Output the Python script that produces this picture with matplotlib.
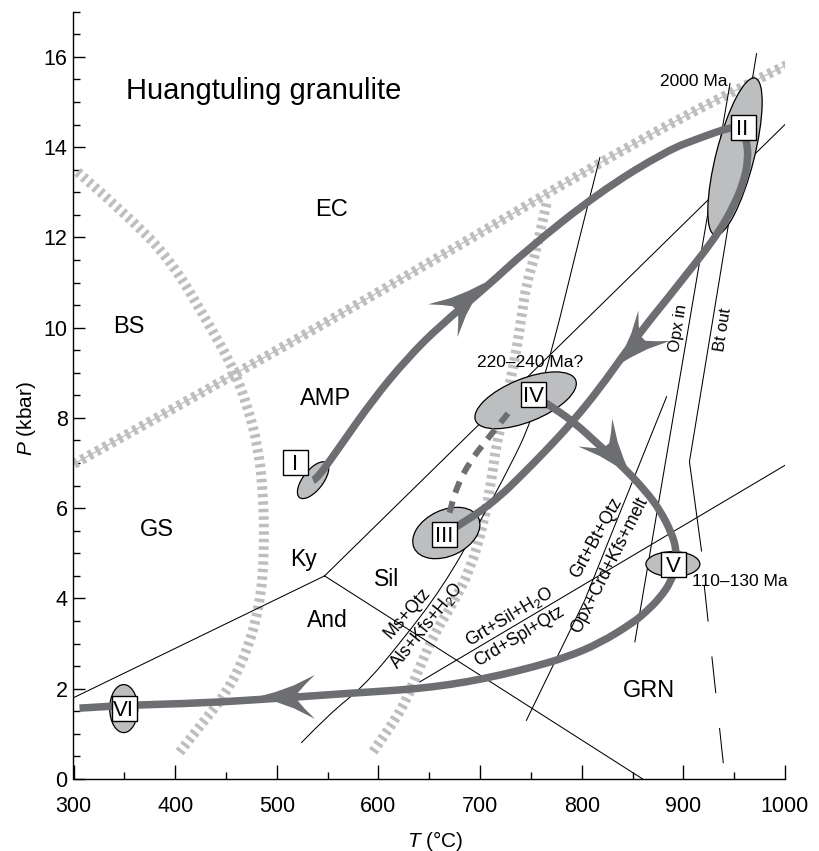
import numpy as np
import matplotlib
matplotlib.use("Agg")
import matplotlib.pyplot as plt
from matplotlib.patches import Ellipse, Polygon, PathPatch
from matplotlib.path import Path
from matplotlib.transforms import ScaledTranslation
from matplotlib.ticker import MultipleLocator

plt.rcParams['font.family'] = ['Liberation Sans', 'DejaVu Sans']
plt.rcParams['mathtext.fontset'] = 'custom'
plt.rcParams['mathtext.rm'] = 'Liberation Sans'
plt.rcParams['mathtext.it'] = 'Liberation Sans:italic'
plt.rcParams['lines.scale_dashes'] = False

LIGHT = '#bcbec0'
DARK = '#6d6e71'

# --- facies boundaries (T in degC, P in kbar) ---
ec_amp_T = [300.5, 460, 621, 867, 1001.6]
ec_amp_P = [6.98, 8.98, 11.05, 14.31, 15.82]

bs_gs_T = [304, 358.4, 397.8, 430.6, 456.8, 472, 481, 486.4, 488, 483.1, 470, 450.3, 424, 406, 402]
bs_gs_P = [13.45, 12.38, 11.42, 10.17, 9.13, 8.2, 7.4, 6.47, 5.0, 3.82, 2.78, 1.9, 1.16, 0.64, 0.52]

amp_grn_T = [765.4, 755.6, 745.6, 740.7, 735.8, 729.3, 722.7, 716.2, 711, 703, 690, 673.4, 657, 640.6, 625, 594.5]
amp_grn_P = [12.75, 11.72, 10.97, 10.24, 9.5, 8.76, 8.02, 7.43, 6.6, 5.6, 4.63, 3.89, 3.3, 2.49, 1.6, 0.6]

# --- reaction lines ---
ky_and_T, ky_and_P = [300, 547], [1.8, 4.5]
ky_sil_T, ky_sil_P = [547, 1000], [4.5, 14.5]
and_sil_T, and_sil_P = [547, 860], [4.5, 0.0]
ms_qtz_T = [524, 552, 584.8, 621, 663.6, 700, 730, 750, 772, 794.8, 818]
ms_qtz_P = [0.8, 1.45, 2.04, 3.0, 4.26, 5.7, 6.95, 7.9, 9.6, 11.72, 13.78]
grt_sil_T, grt_sil_P = [640.6, 1000], [2.15, 6.95]
grt_bt_T, grt_bt_P = [745.6, 803, 883.5], [1.3, 3.96, 8.47]
opx_in_T, opx_in_P = [945.9, 852.3], [15.41, 3.04]
bt_out_T, bt_out_P = [972, 906, 917.9], [16.07, 7.03, 5.05]
bt_out_dash_T, bt_out_dash_P = [920.5, 939.3], [4.3, 0.35]

# --- P-T paths ---
path1_T = [535.7, 538.9, 561.9, 594.4, 627.9, 660.3, 706.3, 745.7, 817.9, 883.5, 916.9, 946.0, 958.3]
path1_P = [6.62, 6.63, 7.36, 8.40, 9.31, 10.04, 10.90, 11.72, 13.01, 13.92, 14.21, 14.44, 14.45]

path2_T = [958.2, 962.3, 963.9, 959.0, 949.1, 936.0, 919.6, 906.5, 883.5, 867.1, 842.5, 817.9,
           791.6, 765.4, 739.1, 719.4, 697.8, 676.8, 664.4]
path2_P = [14.45, 14.16, 13.72, 13.20, 12.68, 12.16, 11.65, 11.28, 10.62, 10.17, 9.44, 8.66,
           7.93, 7.29, 6.69, 6.26, 5.89, 5.59, 5.42]

path3_T = [752.1, 765.4, 791.3, 817.9, 839.5, 862.2, 876.9, 888.5, 893.2, 892.7, 887.8, 876.9, 863.1,
           850.3, 817.9, 785.4, 751.9, 719.4, 686.9, 653.5, 621.0, 571.7, 490.0, 424.1, 358.1, 305.9]
path3_P = [8.52, 8.32, 7.93, 7.38, 6.94, 6.40, 5.96, 5.45, 5.07, 4.72, 4.37, 4.01, 3.70,
           3.46, 3.01, 2.70, 2.48, 2.30, 2.15, 2.04, 1.97, 1.90, 1.77, 1.68, 1.64, 1.57]

link_T = [727.5, 706.3, 689.9, 676.8, 670]
link_P = [8.1, 7.51, 7.03, 6.47, 5.9]

# arrowheads: (tip T, tip P, back T, back P)
arrows = [
    (705.0, 11.0, 663.6, 10.16),
    (832.6, 9.13, 868.7, 9.98),
    (849.0, 6.70, 812.9, 7.69),
    (481.4, 1.82, 535.6, 1.82),
]

# --- metamorphic stages ---
stage_names = ['I', 'II', 'III', 'IV', 'V', 'VI']
stage_T = [517.9, 958.2, 664.4, 752.1, 890.3, 349.4]
stage_P = [7.03, 14.45, 5.42, 8.52, 4.77, 1.57]

# ellipse centres (T, P) and size in px (w, h, angle)
ell_T = [535.7, 950.8, 666.8, 744.8, 889.7, 349.4]
ell_P = [6.62, 13.79, 5.45, 8.39, 4.76, 1.56]
ell_size = [(44, 20, 52), (162, 38, 75.7), (71, 46, 25), (108, 43, 22), (54, 25, 0), (28, 48, 0)]


def smooth(T, P):
    """Quadratic Bezier path using the read points as control points."""
    pts = np.column_stack([T, P]).astype(float)
    verts, codes = [pts[0]], [Path.MOVETO]
    for i in range(1, len(pts) - 1):
        verts += [pts[i], (pts[i] + pts[i + 1]) / 2]
        codes += [Path.CURVE3, Path.CURVE3]
    verts.append(pts[-1])
    codes.append(Path.LINETO)
    return Path(verts, codes)


def draw_curve(ax, T, P, **kw):
    ax.add_patch(PathPatch(smooth(T, P), fill=False, **kw))


fig = plt.figure(figsize=(8.2, 8.51), dpi=100)
ax = fig.add_axes([73.5 / 820, 72 / 851, 711.5 / 820, 767.3 / 851])
ax.set_xlim(300, 1000)
ax.set_ylim(0, 17)

for s in ['top', 'right']:
    ax.spines[s].set_visible(False)
for s in ['left', 'bottom']:
    ax.spines[s].set_linewidth(1.0)

ax.xaxis.set_major_locator(MultipleLocator(100))
ax.xaxis.set_minor_locator(MultipleLocator(50))
ax.yaxis.set_major_locator(MultipleLocator(2))
ax.yaxis.set_minor_locator(MultipleLocator(0.5))
ax.tick_params(axis='both', which='both', direction='in', width=1.0, labelsize=15.5)
ax.tick_params(axis='x', which='major', length=10, pad=12)
ax.tick_params(axis='x', which='minor', length=5.3)
ax.tick_params(axis='y', which='major', length=8.4, pad=4.3)
ax.tick_params(axis='y', which='minor', length=5.3)

ax.set_xlabel('$T$ (°C)', fontsize=15)
ax.xaxis.label.set_va('baseline')
ax.xaxis.set_label_coords(0.508, -0.0882)
ax.set_ylabel('$P$ (kbar)', fontsize=15)
ax.yaxis.label.set_va('baseline')
ax.yaxis.set_label_coords(-0.0587, 0.47)

# facies bands
draw_curve(ax, ec_amp_T, ec_amp_P, edgecolor=LIGHT, lw=7.2, linestyle=(0, (2.9, 3.2)), zorder=2)
draw_curve(ax, ec_amp_T, ec_amp_P, edgecolor=LIGHT, lw=0.9, zorder=2)
for t, p in [(bs_gs_T, bs_gs_P), (amp_grn_T, amp_grn_P)]:
    draw_curve(ax, t, p, edgecolor=LIGHT, lw=7.2, linestyle=(0, (2.5, 2.9)), zorder=2)

# reaction curves
thin = dict(color='black', lw=0.75, zorder=3)
for t, p in [(ky_and_T, ky_and_P), (ky_sil_T, ky_sil_P), (and_sil_T, and_sil_P),
             (grt_sil_T, grt_sil_P), (grt_bt_T, grt_bt_P),
             (opx_in_T, opx_in_P), (bt_out_T, bt_out_P)]:
    ax.plot(t, p, **thin)
draw_curve(ax, ms_qtz_T, ms_qtz_P, edgecolor='black', lw=0.75, zorder=3)
ax.plot(bt_out_dash_T, bt_out_dash_P, dashes=(26.6, 25.2), **thin)

# stage ellipses
for t, p, (w, h, a) in zip(ell_T, ell_P, ell_size):
    tr = fig.dpi_scale_trans + ScaledTranslation(t, p, ax.transData)
    ax.add_patch(Ellipse((0, 0), w / 100, h / 100, angle=a, transform=tr,
                         facecolor=LIGHT, edgecolor='black', lw=0.9, zorder=4))

# P-T paths
path_kw = dict(edgecolor=DARK, lw=5.4, capstyle='butt', joinstyle='round', zorder=5)
draw_curve(ax, path1_T, path1_P, **path_kw)
draw_curve(ax, path2_T, path2_P, **path_kw)
draw_curve(ax, path3_T, path3_P, **path_kw)
draw_curve(ax, link_T, link_P, edgecolor=DARK, lw=4.3, linestyle=(0, (8.6, 6.5)), zorder=5)

# barbed arrowheads, shape in px pointing along +x
head = np.array([(0, 0), (-18, 5), (-36, 11.5), (-57, 22), (-47, 12), (-40, 4),
                 (-40, -4), (-47, -12), (-57, -22), (-36, -11.5), (-18, -5)], float)
for tt, tp, bt, bp in arrows:
    (x0, y0), (x1, y1) = ax.transData.transform([(bt, bp), (tt, tp)])
    ang = np.arctan2(y1 - y0, x1 - x0)
    c, s = np.cos(ang), np.sin(ang)
    pts = np.column_stack([head[:, 0] * c - head[:, 1] * s,
                           head[:, 0] * s + head[:, 1] * c]) / 100
    tr = fig.dpi_scale_trans + ScaledTranslation(tt, tp, ax.transData)
    ax.add_patch(Polygon(pts, closed=True, transform=tr, facecolor=DARK,
                         edgecolor='none', zorder=6))

# stage boxes
ax.plot(stage_T, stage_P, 's', ms=18, mfc='white', mec='black', mew=1.0, ls='none', zorder=7)
for name, t, p in zip(stage_names, stage_T, stage_P):
    ax.text(t, p, name, fontsize=16, ha='center', va='center_baseline', zorder=8)

# labels
ax.text(351.8, 15.07, 'Huangtuling granulite', fontsize=21, ha='left', va='baseline')
for txt, t, p in [('EC', 553.6, 12.47), ('BS', 354.3, 9.89), ('AMP', 547.9, 8.29),
                  ('GS', 381.7, 5.39), ('GRN', 866.4, 1.82)]:
    ax.text(t, p, txt, fontsize=17, ha='center', va='baseline')
for txt, t, p in [('Ky', 526.4, 4.73), ('Sil', 608.3, 4.28), ('And', 550.1, 3.36)]:
    ax.text(t, p, txt, fontsize=16.5, ha='center', va='baseline')
for txt, t, p in [('2000 Ma', 910.6, 15.35), ('220–240 Ma?', 749, 9.13), ('110–130 Ma', 955.7, 4.28)]:
    ax.text(t, p, txt, fontsize=12.5, ha='center', va='baseline', zorder=8)

reactions = [
    ('Opx in', 895.0, 9.98, 81, 12),
    ('Bt out', 939.3, 9.95, 81, 12),
    ('Ms+Qtz', 628.2, 3.67, 49, 12.7),
    ('Als+Kfs+H$_2$O', 647.2, 3.39, 51, 12.7),
    ('Grt+Sil+H$_2$O', 729.3, 3.6, 31, 12.7),
    ('Crd+Spl+Qtz', 739.1, 3.15, 31, 12.7),
    ('Grt+Bt+Qtz', 814.6, 5.35, 61, 12.7),
    ('Opx+Crd+Kfs+melt', 827.7, 4.74, 63, 12.7),
]
for txt, t, p, rot, fs in reactions:
    ax.text(t, p, txt, fontsize=fs, rotation=rot, rotation_mode='anchor',
            ha='center', va='center', zorder=8)

fig.savefig('out.png', dpi=100)
